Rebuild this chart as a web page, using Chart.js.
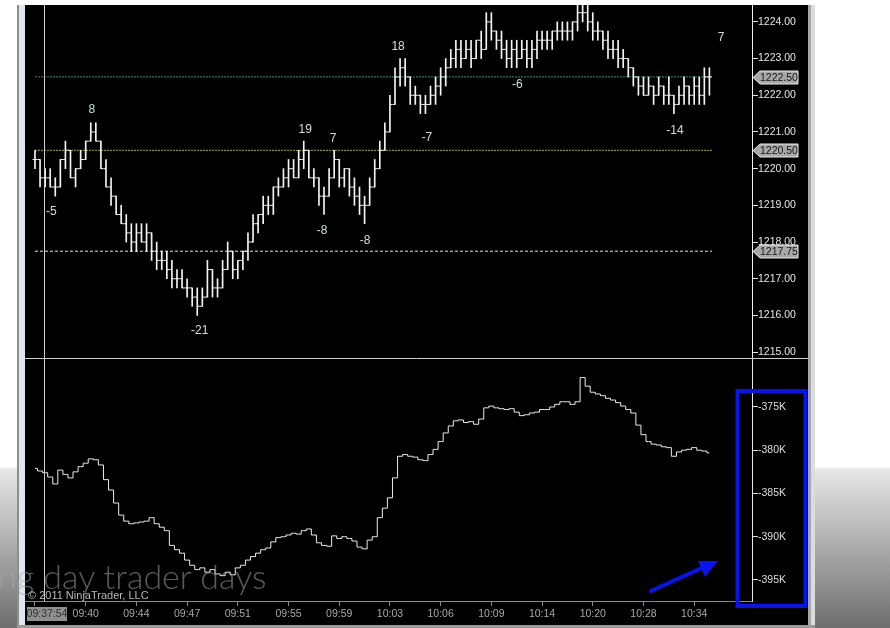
<!DOCTYPE html>
<html>
<head>
<meta charset="utf-8">
<script src="https://cdn.jsdelivr.net/npm/chart.js@4.4.1/dist/chart.umd.min.js"></script>
<style>
  html, body { margin:0; padding:0; }
  body { width:890px; height:628px; overflow:hidden; position:relative;
    background: linear-gradient(to bottom, #ffffff 0px, #ffffff 466px, #e6e6e6 470px, #6e6e6e 628px); }
  #lb1 { position:absolute; left:17px; top:5px; width:2px; height:623px; background:#8e8e8e; }
  #lb2 { position:absolute; left:19px; top:5px; width:6px; height:623px; background:#dfe6ee; }
  #rb1 { position:absolute; left:808px; top:5px; width:3px; height:623px; background:#a8a8a8; }
  #rb2 { position:absolute; left:811px; top:5px; width:4px; height:623px; background:#dcdcdc; }
  #bot { position:absolute; left:17px; top:625px; width:798px; height:3px; background:#9a9a9a; }
  #wrap { position:absolute; left:25px; top:5px; width:783px; height:620px; background:#000; }
  #copy { position:absolute; left:28px; top:589px; font: 11px "Liberation Sans", Arial, sans-serif; color:#b8b8b8; white-space:nowrap; }
  #wm { position:absolute; left:-2px; top:555px; font-family: Lato, "Open Sans", sans-serif; font-weight:300; font-size:34px; color:rgba(165,165,165,0.55); white-space:nowrap; }
  svg { position:absolute; left:0; top:0; }
</style>
</head>
<body>
<div id="lb1"></div><div id="lb2"></div><div id="rb1"></div><div id="rb2"></div><div id="bot"></div>
<div id="wrap"><canvas id="c" width="783" height="620"></canvas></div>
<div id="copy">© 2011 NinjaTrader, LLC</div>
<div id="wm">ng day trader days</div>
<svg width="890" height="628" viewBox="0 0 890 628">
  <rect x="737.5" y="391" width="68" height="215" fill="none" stroke="#0814f0" stroke-width="4"/>
  <line x1="651" y1="591" x2="704" y2="567" stroke="#0814f0" stroke-width="4" stroke-linecap="round"/>
  <polygon points="718,561 698,561 705,577" fill="#0814f0"/>
</svg>
<script>
// ---------- data ----------
const timeLabels = ['09:37:54','09:40','09:44','09:47','09:51','09:55','09:59','10:03','10:06','10:09','10:14','10:20','10:28','10:34'];
const tickEvery = 10;

const openP = [
1220.25,1220.25,1219.75,1219.75,1219.5,1219.5,1220.25,1220.5,1219.75,1220.0,
1220.25,1220.75,1221.0,1220.75,1220.0,1219.5,1219.25,1218.75,1218.5,1218.25,
1218.0,1218.25,1218.0,1218.25,1217.75,1217.5,1217.5,1217.25,1217.0,1217.0,
1216.75,1216.75,1216.5,1216.25,1216.5,1217.25,1216.75,1216.75,1217.25,1217.75,
1217.25,1217.5,1217.75,1218.0,1218.5,1218.75,1219.0,1219.0,1219.5,1219.5,
1219.75,1220.0,1219.75,1220.25,1220.5,1219.75,1219.75,1219.25,1219.25,1219.75,
1220.25,1219.75,1220.0,1219.5,1219.25,1219.0,1219.0,1219.5,1220.0,1220.5,
1221.0,1221.75,1222.5,1222.75,1222.5,1222.0,1222.0,1221.75,1221.75,1222.0,
1222.25,1222.5,1222.75,1223.0,1223.25,1223.0,1223.25,1223.0,1223.5,1223.25,
1224.0,1223.75,1223.5,1223.25,1223.0,1223.25,1223.0,1223.25,1223.0,1223.25,
1223.5,1223.5,1223.5,1223.75,1223.75,1223.75,1223.75,1224.0,1224.25,1224.25,
1224.0,1223.75,1223.75,1223.5,1223.25,1223.25,1223.0,1223.0,1222.75,1222.5,
1222.25,1222.0,1222.25,1222.0,1222.25,1222.0,1222.0,1221.75,1222.0,1222.25,
1222.0,1222.25,1222.0,1222.5];
const highP = [
1220.5,1220.25,1220.0,1220.0,1219.75,1220.25,1220.75,1220.5,1220.0,1220.5,
1220.75,1221.25,1221.25,1220.75,1220.25,1219.75,1219.25,1219.0,1218.75,1218.5,
1218.5,1218.5,1218.5,1218.25,1218.0,1217.75,1217.75,1217.5,1217.25,1217.25,
1217.0,1216.75,1216.75,1216.75,1217.5,1217.25,1217.0,1217.5,1218.0,1217.75,
1217.5,1217.75,1218.25,1218.75,1218.75,1219.25,1219.25,1219.5,1219.75,1220.0,
1220.25,1220.25,1220.5,1220.75,1220.5,1220.0,1219.75,1219.5,1220.0,1220.5,
1220.25,1220.0,1220.0,1219.75,1219.5,1219.25,1219.75,1220.25,1220.75,1221.25,
1222.0,1222.75,1223.0,1223.0,1222.5,1222.25,1222.0,1222.0,1222.25,1222.5,
1222.75,1223.0,1223.25,1223.5,1223.5,1223.5,1223.5,1223.5,1223.75,1224.25,
1224.25,1223.75,1223.75,1223.5,1223.5,1223.5,1223.5,1223.5,1223.5,1223.75,
1223.75,1223.75,1223.75,1224.0,1224.0,1224.0,1224.0,1224.5,1224.5,1224.5,
1224.25,1224.0,1223.75,1223.75,1223.5,1223.5,1223.25,1223.0,1222.75,1222.5,
1222.5,1222.5,1222.25,1222.5,1222.25,1222.5,1222.0,1222.25,1222.5,1222.25,
1222.5,1222.5,1222.75,1222.75];
const lowP = [
1220.0,1219.5,1219.5,1219.5,1219.25,1219.5,1220.0,1219.75,1219.5,1220.0,
1220.25,1220.75,1220.75,1220.0,1219.5,1219.0,1218.75,1218.5,1218.0,1217.75,
1217.75,1218.0,1217.75,1217.5,1217.25,1217.25,1217.0,1216.75,1216.75,1216.75,
1216.5,1216.25,1216.0,1216.25,1216.5,1216.5,1216.5,1216.75,1217.25,1217.0,
1217.0,1217.25,1217.5,1218.0,1218.25,1218.5,1218.75,1218.75,1219.25,1219.5,
1219.5,1219.75,1219.75,1220.0,1219.75,1219.5,1219.0,1218.75,1219.25,1219.75,
1219.5,1219.5,1219.25,1219.0,1218.75,1218.5,1219.0,1219.5,1220.0,1220.5,
1221.0,1221.75,1222.25,1222.25,1221.75,1221.75,1221.5,1221.5,1221.75,1221.75,
1222.0,1222.25,1222.75,1222.75,1222.75,1223.0,1222.75,1223.0,1223.0,1223.25,
1223.5,1223.25,1223.0,1222.75,1222.75,1222.75,1223.0,1222.75,1222.75,1223.0,
1223.25,1223.25,1223.25,1223.5,1223.5,1223.5,1223.5,1223.75,1224.0,1223.75,
1223.5,1223.5,1223.25,1223.0,1223.0,1222.75,1222.75,1222.5,1222.25,1222.0,
1222.0,1222.0,1221.75,1222.0,1221.75,1221.75,1221.5,1221.75,1221.75,1221.75,
1221.75,1221.75,1221.75,1222.0];
const closeP = [
1220.25,1219.75,1219.75,1219.5,1219.5,1220.25,1220.5,1219.75,1220.0,1220.25,
1220.75,1221.0,1220.75,1220.0,1219.5,1219.25,1218.75,1218.5,1218.25,1218.0,
1218.25,1218.0,1218.25,1217.75,1217.5,1217.5,1217.25,1217.0,1217.0,1216.75,
1216.75,1216.5,1216.25,1216.5,1217.25,1216.75,1216.75,1217.25,1217.75,1217.25,
1217.5,1217.75,1218.0,1218.5,1218.75,1219.0,1219.0,1219.5,1219.5,1219.75,
1220.0,1219.75,1220.25,1220.5,1219.75,1219.75,1219.25,1219.25,1219.75,1220.25,
1219.75,1220.0,1219.5,1219.25,1219.0,1219.0,1219.5,1220.0,1220.5,1221.0,
1221.75,1222.5,1222.75,1222.5,1222.0,1222.0,1221.75,1221.75,1222.0,1222.25,
1222.5,1222.75,1223.0,1223.25,1223.0,1223.25,1223.0,1223.5,1223.25,1224.0,
1223.75,1223.5,1223.25,1223.0,1223.25,1223.0,1223.25,1223.0,1223.25,1223.5,
1223.5,1223.5,1223.75,1223.75,1223.75,1223.75,1224.0,1224.25,1224.25,1224.0,
1223.75,1223.75,1223.5,1223.25,1223.25,1223.0,1223.0,1222.75,1222.5,1222.25,
1222.0,1222.25,1222.0,1222.25,1222.0,1222.0,1221.75,1222.0,1222.25,1222.0,
1222.25,1222.0,1222.5,1222.5];
// cumulative delta, in thousands
const deltaK = [
-382.1,-382.4,-382.6,-383.1,-383.9,-382.3,-382.8,-383.2,-382.5,-381.9,
-381.5,-381.0,-381.1,-381.7,-383.4,-384.6,-386.1,-387.5,-388.2,-388.5,
-388.4,-388.3,-388.2,-387.8,-388.5,-388.9,-389.3,-391.0,-391.5,-391.9,
-392.7,-393.3,-393.8,-393.6,-394.1,-393.8,-394.3,-394.5,-394.1,-394.4,
-393.6,-393.3,-392.7,-392.3,-391.9,-391.5,-391.3,-390.6,-390.1,-390.0,
-389.8,-389.6,-389.7,-389.3,-389.1,-389.8,-390.7,-391.0,-391.1,-389.9,
-390.2,-390.0,-390.2,-390.5,-391.2,-391.4,-390.4,-390.0,-387.8,-386.7,
-385.5,-383.2,-380.7,-380.5,-380.7,-380.8,-381.1,-381.2,-380.5,-379.9,
-379.0,-378.0,-377.2,-376.6,-376.5,-376.8,-376.7,-377.0,-376.4,-375.1,
-374.9,-375.1,-375.2,-375.3,-375.2,-375.6,-376.0,-375.9,-375.7,-375.6,
-375.3,-375.3,-375.0,-374.7,-374.4,-374.4,-374.7,-374.4,-371.6,-372.6,
-373.3,-373.5,-373.7,-374.0,-374.2,-374.5,-374.9,-375.3,-375.7,-377.1,
-378.2,-379.0,-379.3,-379.4,-379.6,-379.7,-380.7,-380.2,-380.0,-379.9,
-379.7,-380.0,-380.1,-380.3];

const priceTicks = [1215,1216,1217,1218,1219,1220,1221,1222,1223,1224];
const deltaTicks = [-395,-390,-385,-380,-375];
const levels = [1222.5, 1220.5, 1217.75];
const levelColors = ['#3d8d70', '#93bf22', '#e8e8e8'];
const noteText  = ['-5','8','-21','19','-8','7','-8','18','-7','-6','-14','7'];
const noteBar   = [3.2, 11.2, 32.5, 53.3, 56.6, 58.8, 65.1, 71.6, 77.3, 95.1, 126.2, 135.3];
const notePrice = [1218.82, 1221.60, 1215.58, 1221.06, 1218.31, 1220.81, 1218.03, 1223.32, 1220.84, 1222.28, 1221.03, 1223.56];
const cursorBar = 1.8;

// ---------- chart ----------
const FONT = '"Liberation Sans", Arial, sans-serif';
Chart.defaults.font.family = FONT;
Chart.defaults.font.size = 10.5;

const idx = openP.map((_, i) => i);
const last = openP.length - 1;

const overlay = {
  id: 'overlay',
  afterDatasetsDraw(chart) {
    const {ctx, scales: {x, y}} = chart;
    ctx.save();
    ctx.font = '12px ' + FONT;
    ctx.fillStyle = '#c4e0da';
    ctx.textAlign = 'center';
    ctx.textBaseline = 'middle';
    noteText.forEach((t, k) => ctx.fillText(t, x.getPixelForValue(noteBar[k]), y.getPixelForValue(notePrice[k])));
    ctx.restore();
  },
  afterDraw(chart) {
    const {ctx, chartArea, scales: {x, y}} = chart;
    ctx.save();
    ctx.lineWidth = 1;
    // panel separator
    ctx.strokeStyle = '#d0d0d0';
    const sy = Math.round(y.bottom) + 0.5;
    ctx.beginPath(); ctx.moveTo(0, sy); ctx.lineTo(chart.width, sy); ctx.stroke();
    // cursor line
    ctx.strokeStyle = '#cfcfcf';
    const cx = Math.round(x.getPixelForValue(cursorBar)) + 0.5;
    ctx.beginPath(); ctx.moveTo(cx, chartArea.top); ctx.lineTo(cx, chartArea.bottom); ctx.stroke();
    // price markers on axis
    ctx.font = '10.5px ' + FONT;
    ctx.textAlign = 'left';
    ctx.textBaseline = 'middle';
    levels.forEach(lv => {
      const py = Math.round(y.getPixelForValue(lv)) + 0.5;
      const x0 = chartArea.right + 1;
      ctx.beginPath();
      ctx.moveTo(x0, py);
      ctx.lineTo(x0 + 7, py - 6.5);
      ctx.lineTo(x0 + 45, py - 6.5);
      ctx.lineTo(x0 + 45, py + 6.5);
      ctx.lineTo(x0 + 7, py + 6.5);
      ctx.closePath();
      ctx.fillStyle = '#a8a8a8'; ctx.fill();
      ctx.strokeStyle = '#e8e8e8'; ctx.stroke();
      ctx.fillStyle = '#151515';
      ctx.fillText(lv.toFixed(2), x0 + 7, py + 0.5);
    });
    // first time label (boxed)
    const px = x.getPixelForValue(0);
    const by = x.top + 6;
    ctx.fillStyle = '#8f8f8f';
    ctx.fillRect(px - 8, by, 40, 14);
    ctx.fillStyle = '#2e2e2e';
    ctx.textAlign = 'center';
    ctx.fillText(timeLabels[0], px + 12, by + 7.5);
    ctx.restore();
  }
};

const yFit = s => { s.width = 56; s.paddingTop = 0; s.paddingBottom = 0; };

new Chart(document.getElementById('c'), {
  type: 'bar',
  data: {
    datasets: [
      ...levels.map((lv, k) => ({
        type: 'line', yAxisID: 'y', xAxisID: 'x',
        data: [{x: 0, y: lv}, {x: last + 0.5, y: lv}],
        borderColor: levelColors[k], borderWidth: 1,
        borderDash: k === 2 ? [3, 2] : [2, 1],
        pointRadius: 0, order: 5
      })),
      {
        type: 'bar', yAxisID: 'y', xAxisID: 'x',
        data: idx.map(i => ({x: i, y: [lowP[i], highP[i]]})),
        backgroundColor: '#f4f4f4', borderWidth: 0,
        barThickness: 1, grouped: false, order: 1
      },
      {
        type: 'scatter', yAxisID: 'y', xAxisID: 'x',
        data: idx.map(i => ({x: i, y: openP[i]})),
        pointStyle: 'dash', pointRotation: 180, pointRadius: 2.5,
        pointBorderColor: '#f4f4f4', pointBorderWidth: 1, showLine: false, order: 0
      },
      {
        type: 'scatter', yAxisID: 'y', xAxisID: 'x',
        data: idx.map(i => ({x: i, y: closeP[i]})),
        pointStyle: 'dash', pointRotation: 0, pointRadius: 2.5,
        pointBorderColor: '#f4f4f4', pointBorderWidth: 1, showLine: false, order: 0
      },
      {
        type: 'line', yAxisID: 'y2', xAxisID: 'x',
        data: idx.map(i => ({x: i, y: deltaK[i]})),
        stepped: 'middle', borderColor: '#ececec', borderWidth: 1,
        pointRadius: 0, order: 2
      }
    ]
  },
  options: {
    responsive: false, animation: false, devicePixelRatio: 1,
    events: [],
    layout: { padding: 0, autoPadding: false },
    plugins: { legend: { display: false }, tooltip: { enabled: false } },
    scales: {
      x: {
        type: 'linear', position: 'bottom', min: -1.97, max: 141.4, offset: false,
        grid: { drawOnChartArea: false, tickLength: 5, color: '#8a8a8a', offset: false },
        border: { display: true, color: '#8a8a8a' },
        ticks: { color: '#a8a8a8', padding: 2, autoSkip: false, maxRotation: 0,
          callback: (v, i) => i === 0 ? '' : timeLabels[i] },
        afterBuildTicks: s => { s.ticks = timeLabels.map((_, k) => ({ value: k * tickEvery })); },
        afterFit: s => { s.height = 24; s.paddingLeft = 0; s.paddingRight = 0; }
      },
      y: {
        type: 'linear', position: 'right', stack: 'panels', stackWeight: 353,
        min: 1214.84, max: 1224.46,
        grid: { drawOnChartArea: false, tickLength: 6, color: '#e0e0e0' },
        border: { display: true, color: '#f0f0f0' },
        ticks: { color: '#e6e6e6', padding: 0, callback: v => Number(v).toFixed(2) },
        afterBuildTicks: s => { s.ticks = priceTicks.map(v => ({ value: v })); },
        afterFit: yFit
      },
      y2: {
        type: 'linear', position: 'right', stack: 'panels', stackWeight: 243,
        min: -397.43, max: -369.34,
        grid: { drawOnChartArea: false, tickLength: 6, color: '#d8d8d8' },
        border: { display: true, color: '#e8e8e8' },
        ticks: { color: '#dedede', padding: 0, callback: v => v + 'K' },
        afterBuildTicks: s => { s.ticks = deltaTicks.map(v => ({ value: v })); },
        afterFit: yFit
      }
    }
  },
  plugins: [overlay]
});
</script>
</body>
</html>
